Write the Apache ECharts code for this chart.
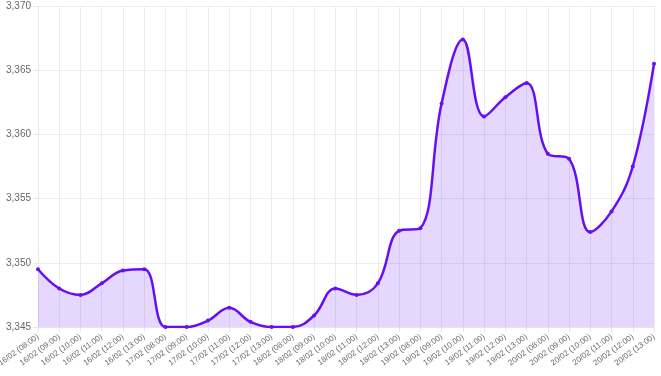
<!DOCTYPE html>
<html><head><meta charset="utf-8">
<script src="https://cdn.jsdelivr.net/npm/echarts@6/dist/echarts.min.js"></script>
<style>html,body{margin:0;padding:0;background:#fff}#c{width:661px;height:376px}</style>
</head><body><div id="c"></div>
<script>
const days = ['16/02','17/02','18/02','19/02','20/02'];
const hours = ['08:00','09:00','10:00','11:00','12:00','13:00'];
const categories = [];
days.forEach(d => hours.forEach(h => categories.push(d + ' (' + h + ')')));
const values = [
  3349.5, 3348.0, 3347.5, 3348.4, 3349.4, 3349.5,
  3345.0, 3345.0, 3345.5, 3346.5, 3345.4, 3345.0,
  3345.0, 3345.9, 3348.0, 3347.5, 3348.4, 3352.5,
  3352.7, 3362.4, 3367.4, 3361.4, 3362.9, 3364.0,
  3358.5, 3358.1, 3352.4, 3354.0, 3357.5, 3365.5
];
const yMin = 3345, yMax = 3370, yStep = 5;

const chart = echarts.init(document.getElementById('c'));
chart.setOption({
  animation: false,
  grid: { left: 38, right: 7, top: 6, bottom: 49, containLabel: false, outerBoundsMode: 'none' },
  xAxis: {
    type: 'category', data: categories, boundaryGap: false,
    axisLine: { show: true, lineStyle: { color: '#e6e6e6' } },
    axisTick: { show: true, length: 5, lineStyle: { color: '#e6e6e6' } },
    splitLine: { show: true, lineStyle: { color: '#ececec' } },
    axisLabel: { rotate: 36, fontSize: 8, color: '#666', fontFamily: 'Liberation Sans', margin: 9, interval: 0 }
  },
  yAxis: {
    type: 'value', min: yMin, max: yMax, interval: yStep,
    axisLine: { show: true, lineStyle: { color: '#e6e6e6' } },
    axisTick: { show: true, length: 5, lineStyle: { color: '#e6e6e6' } },
    splitLine: { show: true, lineStyle: { color: '#ececec' } },
    axisLabel: { fontSize: 10, color: '#666', fontFamily: 'Liberation Sans', margin: 7,
      formatter: v => v.toLocaleString('en-US') }
  },
  series: [{
    type: 'line', data: values, smooth: 0.4,
    symbol: 'circle', symbolSize: 4,
    itemStyle: { color: '#6610f2' },
    lineStyle: { color: '#6610f2', width: 2.5 },
    areaStyle: { color: 'rgba(102,16,242,0.24)', origin: 'start' }
  }]
});
</script></body></html>
